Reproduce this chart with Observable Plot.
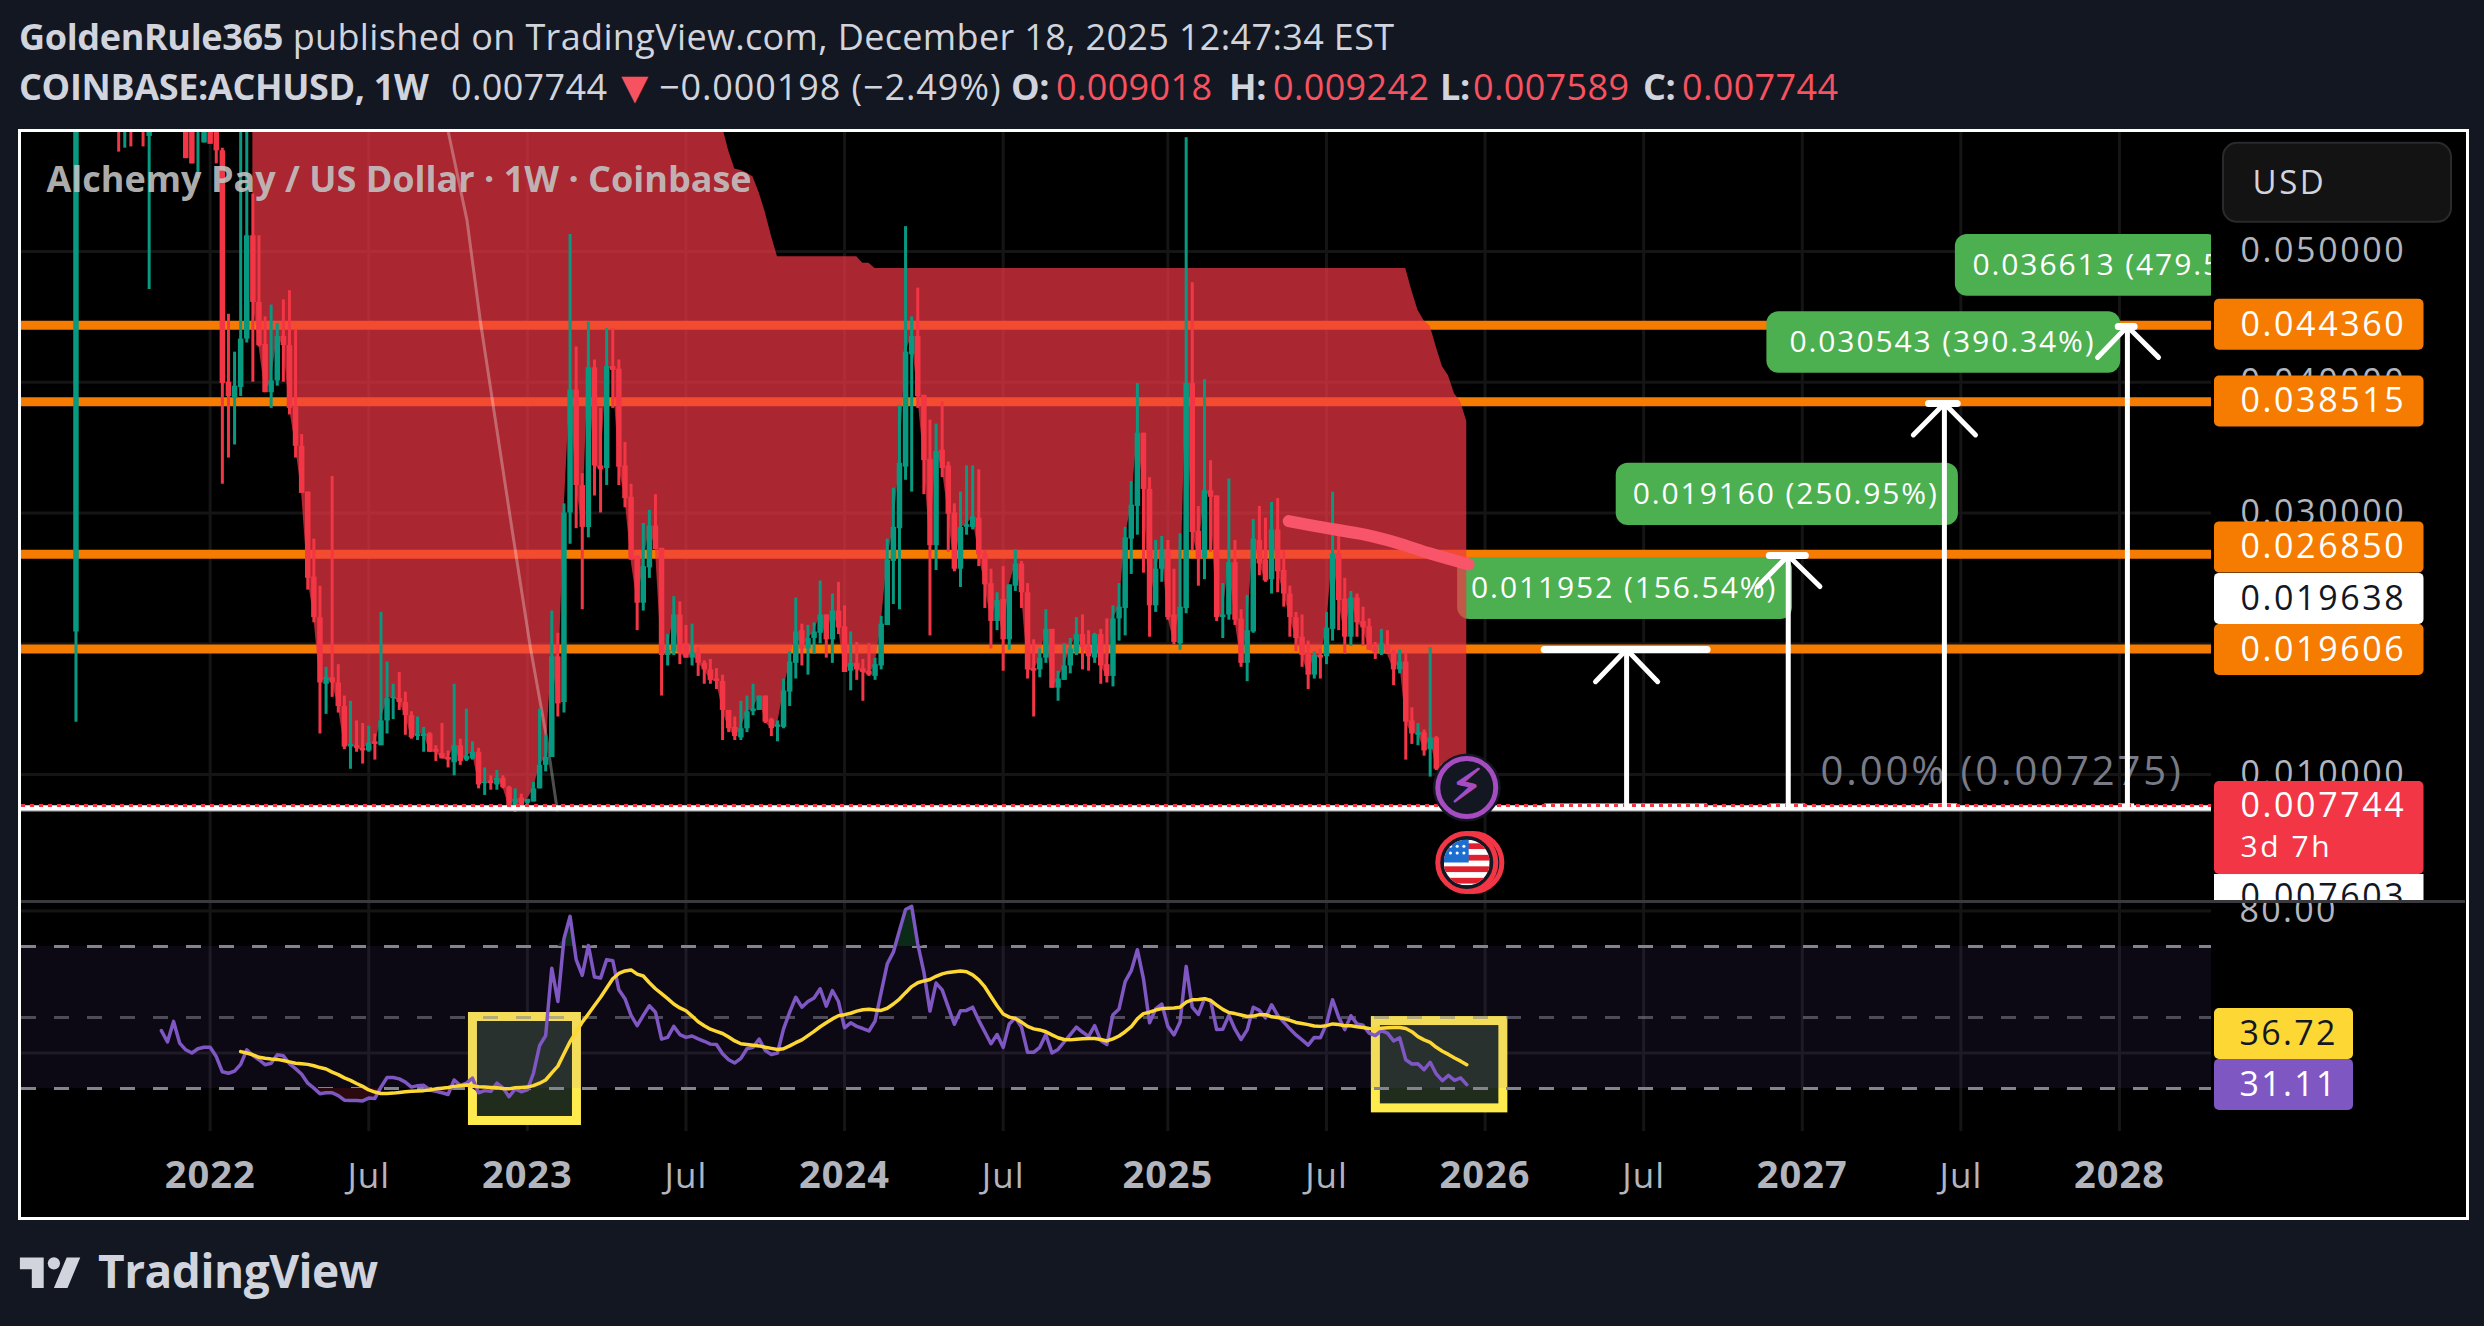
<!DOCTYPE html>
<html><head><meta charset="utf-8">
<script src="https://cdn.jsdelivr.net/npm/d3@7"></script>
<script src="https://cdn.jsdelivr.net/npm/@observablehq/plot@0.6"></script>
<style>
html,body{margin:0;padding:0;background:#131722;}
#page{position:relative;width:2484px;height:1326px;overflow:hidden;background:#131722;font-family:"Open Sans",sans-serif;color:#d1d4dc;}
#page svg{position:absolute;display:block;}
.h{position:absolute;white-space:nowrap;font-size:36px;line-height:44px;letter-spacing:0.35px;}
.b{font-weight:700;letter-spacing:-0.35px}.r{color:#f7525f}
#panel{position:absolute;left:18px;top:129px;width:2445px;height:1085px;border:3px solid #fff;background:#000;}
#sep{position:absolute;left:21px;top:900px;width:2444px;height:3px;background:#3a3a3e;}
</style></head><body><div id="page">
<div class="h" style="left:19px;top:15px"><span class="b">GoldenRule365</span> published on TradingView.com, December 18, 2025 12:47:34 EST</div>
<div class="h b" style="left:19px;top:65px">COINBASE:ACHUSD, 1W</div>
<div class="h" style="left:451px;top:65px">0.007744</div>
<div class="h r" style="left:612px;top:63px;font-size:46px">▼</div>
<div class="h" style="left:659px;top:65px;letter-spacing:0.9px">−0.000198 (−2.49%)</div>
<div class="h b" style="left:1011px;top:65px">O:</div><div class="h r" style="left:1056px;top:65px">0.009018</div>
<div class="h b" style="left:1229px;top:65px">H:</div><div class="h r" style="left:1273px;top:65px">0.009242</div>
<div class="h b" style="left:1440px;top:65px">L:</div><div class="h r" style="left:1473px;top:65px">0.007589</div>
<div class="h b" style="left:1643px;top:65px">C:</div><div class="h r" style="left:1682px;top:65px">0.007744</div>
<div id="panel"></div>
<svg style="left:19px;top:1254px" width="63" height="34" viewBox="0 0 36 20" fill="#d1d4dc"><path d="M14 20H7V9H0V2h14v18zM28 20h-8l7.5-18h8L28 20z"/><circle cx="20" cy="5.5" r="3.6"/></svg>
<div class="h b" style="left:98px;top:1243px;font-size:46px;line-height:54px;letter-spacing:-0.5px">TradingView</div>
<div id="charts"></div>
<div id="sep"></div>
</div>
<script>
// Prices in ten-thousandths of a dollar, one entry per weekly bar from 2021-08-02
const candleOpen=[209,800,760,720,700,760,680,660,620,680,620,640,588,640,620,640,610,630,620,595,592,583,610,600,577,400,388,396,433,512,461,429,392,401,435,428,381,351,316,251,220,169,174,170,152,121,122,120,118,125,122,141,158,158,155,145,129,129,131,119,116,113,109,122,111,112,117,93,95,92,97,90,76,82,78,79,89,107,113,190,155,300,394,321,289,411,336,334,412,410,336,312,267,231,258,290,273,191,194,222,200,189,193,185,180,173,171,149,136,128,135,148,149,160,142,136,136,163,185,210,196,204,208,222,203,225,213,179,185,181,179,175,183,214,263,288,335,421,435,390,341,275,348,336,300,257,289,289,296,269,246,217,234,203,244,261,239,181,180,189,211,166,172,183,193,207,197,189,207,184,175,219,227,280,305,361,318,229,257,272,222,200,227,399,286,265,317,313,220,222,262,219,185,209,279,264,249,287,256,238,220,205,192,176,191,190,211,269,234,205,235,217,213,197,192,199,193,180,186,141,130,132,119,128,104,98,93,88,90.18];
const candleHigh=[900,950,900,860,820,880,760,720,700,700,680,680,700,700,660,680,650,660,640,610,630,630,630,620,579,452,423,600,600,544,512,450,459,445,463,470,440,360,316,280,244,182,328,184,160,156,141,139,137,131,224,186,169,178,163,148,144,136,132,122,139,118,169,127,150,125,120,105,99,103,99,91,89,85,81,94,150,130,225,208,307,513,427,330,446,417,380,441,441,417,354,322,267,292,302,314,273,207,236,232,214,215,197,187,188,181,176,149,144,156,160,169,160,160,143,141,173,194,235,215,214,216,248,222,238,247,229,209,201,188,200,189,221,280,319,382,519,450,472,390,371,368,385,339,307,316,336,336,333,271,257,239,259,245,272,263,246,203,196,226,211,179,200,204,220,222,210,208,211,219,229,246,289,324,399,361,327,279,282,279,257,284,587,476,305,402,340,313,246,326,279,226,237,295,305,296,308,311,271,244,224,222,202,194,196,224,316,291,250,240,238,228,219,201,211,210,195,195,193,151,139,134,197,129,108,102,96,90,92.42];
const candleLow=[140,700,680,640,640,660,620,576,579,580,600,580,471,600,596,600,596,595,571,567,556,583,582,567,322,342,352,389,430,400,427,392,380,397,400,375,342,315,241,216,131,146,159,147,119,104,117,108,117,111,122,131,142,149,130,127,126,117,117,110,112,105,99,107,110,111,89,84,88,88,89,74,71,74,76,79,89,102,113,144,147,276,288,226,281,313,300,321,380,321,304,264,210,225,250,272,160,183,191,184,189,183,175,169,169,165,126,132,126,126,132,145,149,139,129,125,135,152,173,183,176,192,200,189,185,207,178,164,172,156,175,172,180,214,230,226,325,316,380,314,206,256,327,270,255,243,283,287,259,227,196,210,179,195,240,227,173,144,174,185,166,156,172,177,191,180,179,185,169,170,167,202,206,253,283,254,205,224,247,218,199,195,223,271,244,249,270,217,204,218,214,182,171,208,252,247,238,239,228,205,194,182,165,173,173,184,202,210,192,198,205,198,195,188,191,192,168,177,111,123,122,114,98,103,96,90,86,78,75.89];
const candleClose=[800,760,720,700,760,680,640,620,680,620,640,610,640,620,640,610,630,600,571,567,610,610,582,577,399,389,397,433,512,461,428,392,401,435,428,380,351,315,250,220,170,174,170,152,121,123,120,118,124,123,141,158,159,155,145,128,131,131,117,117,112,111,122,110,114,117,92,94,93,97,90,75,81,76,81,89,107,113,190,154,300,394,321,289,411,336,333,412,409,335,311,264,231,259,290,272,191,195,222,193,189,193,185,180,172,171,149,135,129,135,148,150,160,140,135,138,164,186,209,196,204,209,222,203,225,212,178,185,180,178,176,184,215,264,289,338,423,435,389,340,275,347,334,299,257,289,291,297,268,245,217,233,203,245,261,239,180,179,189,211,166,173,183,196,207,197,190,207,183,175,219,228,281,306,361,318,229,257,272,220,201,228,399,285,265,317,312,220,222,262,218,185,210,280,261,248,287,255,238,220,204,191,176,191,189,212,269,233,205,235,216,212,195,193,200,192,180,186,140,131,132,118,128,104,98,93,88,79.42,77.44];
// Upper edge of the shaded channel, one entry per week from bar 29
const bandUpper=[
620,620,620,620,620,620,620,620,620,620,
620,620,620,620,620,620,620,620,620,620,
620,620,620,620,620,620,620,620,620,620,
620,620,620,620,620,620,620,620,620,620,
620,620,620,620,620,620,620,620,620,620,
620,620,620,620,620,620,620,620,620,620,
620,620,620,620,620,620,620,620,620,620,
620,620,620,620,620,620,620,
595,577,563,562,560,557,545,530,512,496,
496,496,496,496,496,496,496,496,496,496,
496,496,496,
491,491,487,
487,487,487,487,487,487,487,487,487,487,
487,487,487,487,487,487,487,487,487,487,
487,487,487,487,487,487,487,487,487,487,
487,487,487,487,487,487,487,487,487,487,
487,487,487,487,487,487,487,487,487,487,
487,487,487,487,487,487,487,487,487,487,
487,487,487,487,487,487,487,487,487,487,
487,487,487,487,487,487,487,487,487,487,
487,487,487,487,487,487,487,
470,455,447,443,427,412,405,391,385,370];
// RSI from bar 14, its signal line from bar 27
const rsiValues=[46.3,43.1,48.9,42.8,40.9,40.0,41.2,41.6,41.6,39.0,34.7,34.3,34.9,36.8,40.9,39.3,38.1,36.7,37.1,39.5,39.2,37.0,35.6,34.0,31.5,30.1,28.5,28.8,28.8,28.0,26.7,26.6,26.6,26.5,27.3,27.2,30.4,33.1,33.1,32.7,31.8,30.4,30.8,30.9,29.6,29.2,28.8,28.3,32.4,30.9,31.5,32.9,28.8,29.4,29.2,31.5,30.2,27.7,29.9,29.1,29.6,34.3,42.1,44.9,63.9,54.5,72.2,78.5,66.3,61.9,70.3,61.4,61.1,66.3,66.0,57.8,55.3,50.6,47.7,50.6,53.3,51.5,43.9,44.4,47.5,45.2,44.4,44.8,44.0,43.3,42.5,42.4,39.8,38.1,37.2,38.5,41.2,41.6,43.9,40.7,39.6,40.0,46.8,51.5,55.7,52.9,54.5,55.5,58.1,53.2,57.6,54.5,47.1,48.5,47.5,46.9,46.2,49.0,57.1,65.1,68.4,74.5,80.4,81.3,70.7,62.8,51.8,59.7,57.8,52.9,48.1,51.9,52.0,52.9,49.2,45.9,42.6,45.2,41.6,48.2,49.9,47.3,40.2,40.2,41.6,45.2,40.0,41.0,43.1,45.2,47.3,45.9,44.7,47.7,43.5,42.4,50.8,52.4,60.1,63.2,69.1,60.9,48.5,52.4,53.8,47.5,45.1,48.7,64.4,52.9,50.9,55.3,54.8,46.6,46.7,50.6,46.7,43.8,46.5,52.9,52.0,49.9,53.6,50.6,48.7,46.8,45.1,43.7,42.2,44.4,44.3,48.2,55.0,50.1,46.6,50.5,48.2,47.8,45.6,44.9,46.3,45.6,43.4,44.3,38.1,36.9,37.0,35.3,37.4,34.1,32.2,33.7,32.3,33.0,31.11];
const rsiSignal=[40.4,40.0,39.5,38.8,38.5,38.3,38.2,37.9,37.5,37.1,37.0,36.8,36.4,35.9,35.5,34.6,33.9,33.0,32.3,31.4,30.6,29.6,29.0,28.6,28.6,28.7,28.9,29.1,29.2,29.3,29.4,29.6,29.9,30.1,30.3,30.6,30.8,31.0,30.8,30.5,30.4,30.3,30.2,30.0,29.9,30.2,30.3,30.4,30.8,31.5,32.4,34.4,36.3,39.8,43.2,45.9,48.7,51.0,53.4,55.7,58.3,60.9,62.4,63.1,63.4,62.2,61.7,59.8,58.1,56.7,55.3,53.8,52.7,51.9,50.4,48.8,47.7,46.7,46.1,45.5,44.5,43.4,42.6,42.4,42.2,42.0,41.6,41.3,41.0,41.2,42.0,42.9,43.7,44.9,46.1,47.4,48.5,49.6,50.5,50.8,51.2,51.8,52.2,52.3,52.1,52.0,52.6,53.8,55.2,57.0,58.7,59.8,60.3,60.7,61.6,62.3,62.7,62.9,63.1,62.9,62.0,60.6,58.6,55.9,53.3,51.0,50.1,49.7,48.7,47.5,46.8,46.5,46.0,45.1,44.3,43.8,43.7,43.9,44.0,44.1,44.1,43.8,43.4,44.0,44.8,46.0,47.4,49.6,51.1,51.5,52.1,52.5,52.6,52.7,52.9,54.3,55.0,55.1,55.3,54.8,53.5,52.3,51.4,51.1,50.7,50.3,50.4,50.8,50.8,50.2,50.0,49.7,49.2,48.6,48.3,48.0,47.6,47.5,47.7,48.2,48.0,47.7,47.7,47.4,47.2,46.9,46.8,47.0,47.1,47.2,47.2,46.9,46.0,44.6,43.7,43.0,41.6,40.5,39.6,38.6,37.7,36.72];
// Levels and ticks
const keyLevels=[0.04436,0.038515,0.02685,0.019606];
const priceTicks=[0.05,0.04,0.03,0.02,0.01];
const rsiDashed=[70,30];
const rsiMiddle=[50];
const rsiGrid=[80,40];
const yearTicks=["2022-01-03","2023-01-02","2024-01-01","2025-01-06","2026-01-05","2027-01-04","2028-01-03"].map(d=>new Date(d));
const yearLabels=["2022","2023","2024","2025","2026","2027","2028"];
const julyTicks=["2022-07-04","2023-07-03","2024-07-01","2025-07-07","2026-07-06","2027-07-05"].map(d=>new Date(d));
// Drawn trend strokes: week index and price (1e-4)
const fadeWeeks=[61.06,64.1,66.3,68.4,71.7,74.5,77.2,78.9];
const fadePrices=[591,524,446.5,382,281,197,127,72.7];
const pinkWeeks=[198.8,205.1,211.1,216.6,222,228.3];
const pinkPrices=[293.8,288.4,283.6,277.1,269,260.7];
// Target boxes
const boxText=["0.011952 (156.54%)","0.019160 (250.95%)","0.030543 (390.34%)","0.036613 (479.51%)"];
const boxFrom=[226.5,252.5,277.2,308.1];
const boxTo=[281.4,308.6,335.2,351.5];
const boxLow=[218.6,290.5,406.8,465.7];
const boxHigh=[266,338,454,513];
const boxTextWeek=[228.7,255.2,280.9,310.9];
const boxTextPrice=[242.3,314.2,430.5,489.4];
// Arrows
const arrowWeek=[254.2,280.7,306.3,336.3];
const arrowTop=[195.6,267.5,383.8,442.7];
const arrowHead=[171,243.8,359.7,419];
const arrowHeadLeft=[249.1,275.7,301.2,331.4];
const arrowHeadRight=[259.3,285.9,311.4,341.4];
const arrowBarLeft=[240.7,277.6,303.7,334.8];
const arrowBarRight=[267.4,283.5,308.4,337.4];
const arrowBase=76;
// Right-hand tags
const tagLabels=["0.044360","0.038515","0.026850","0.019638","0.019606"];
const tagCenters=[444,385.3,273.7,234.3,195.2];
const tagFills=["#f57c00","#f57c00","#f57c00","#ffffff","#f57c00"];
const tagInks=["#fff","#fff","#fff","#131722","#fff"];
const FONT='"Open Sans",sans-serif';

const day=864e5, week0=Date.UTC(2021,7,2);
const week=i=>new Date(week0+i*7*day);
const p=v=>v/1e4;
const xDomain=[new Date(week0-62.5*day),new Date(week0+2450.6*day)];
const priceDomain=[0.000287,0.0591];
const rsiDomain=[17.89,82.11];
const green="#089981", red="#f23645", gridInk="#151515";

const bars=candleOpen.map((o,i)=>({t:week(i),o:p(o),h:p(candleHigh[i]),l:p(candleLow[i]),c:p(candleClose[i]),col:candleClose[i]>=o?green:red}));
const band=bandUpper.map((u,k)=>({t:week(29+k),u:p(u),c:p(candleClose[29+k])}));
const fade=fadeWeeks.map((w,k)=>({t:week(w),y:p(fadePrices[k])}));
const pink=pinkWeeks.map((w,k)=>({t:week(w),y:p(pinkPrices[k])}));
const boxes=boxText.map((s,k)=>({s,x1:week(boxFrom[k]),x2:week(boxTo[k]),y1:p(boxLow[k]),y2:p(boxHigh[k]),tx:week(boxTextWeek[k]),ty:p(boxTextPrice[k])}));
const arrowSegs=arrowWeek.flatMap((w,k)=>[
 {a:w,b:p(arrowBase),c:w,d:p(arrowTop[k])},
 {a:w,b:p(arrowTop[k]),c:arrowHeadLeft[k],d:p(arrowHead[k])},
 {a:w,b:p(arrowTop[k]),c:arrowHeadRight[k],d:p(arrowHead[k])}]);
const arrowTopBars=arrowWeek.map((w,k)=>({a:arrowBarLeft[k],c:arrowBarRight[k],y:p(arrowTop[k])}));
const arrowBaseBars=arrowWeek.map((w,k)=>({a:arrowBarLeft[k],c:arrowBarRight[k],y:p(arrowBase)}));
const flagSrc="data:image/svg+xml,"+encodeURIComponent(`<svg xmlns="http://www.w3.org/2000/svg" viewBox="0 0 48 48"><defs><clipPath id="c"><circle cx="24" cy="24" r="24"/></clipPath></defs><g clip-path="url(#c)"><rect width="48" height="48" fill="#fff"/><rect y="4" width="48" height="6" fill="#e0202e"/><rect y="16" width="48" height="6" fill="#e0202e"/><rect y="28" width="48" height="6" fill="#e0202e"/><rect y="40" width="48" height="6" fill="#e0202e"/><rect width="26" height="24" fill="#1c6fd0"/><g fill="#fff"><circle cx="7" cy="7" r="1.6"/><circle cx="14" cy="7" r="1.6"/><circle cx="21" cy="7" r="1.6"/><circle cx="7" cy="14" r="1.6"/><circle cx="14" cy="14" r="1.6"/><circle cx="21" cy="14" r="1.6"/></g></g></svg>`);

const pricePane=Plot.plot({
 width:2190,height:769,marginLeft:0,marginRight:0,marginTop:0,marginBottom:0,
 style:{background:"#000",fontFamily:FONT,left:"21px",top:"132px"},
 x:{type:"utc",domain:xDomain,axis:null},y:{domain:priceDomain,axis:null},
 marks:[
  Plot.ruleX([...yearTicks,...julyTicks],{stroke:gridInk,strokeWidth:3}),
  Plot.ruleY(priceTicks,{stroke:gridInk,strokeWidth:3}),
  Plot.ruleY(keyLevels,{stroke:"#f57c00",strokeWidth:9}),
  Plot.rect(boxes.slice(0,1),{x1:"x1",x2:"x2",y1:"y1",y2:"y2",fill:"#4caf50",rx:12}),
  Plot.areaY(band,{x:"t",y1:"c",y2:"u",fill:red,fillOpacity:0.7}),
  Plot.line(fade,{x:"t",y:"y",stroke:"#ffffff",strokeOpacity:0.3,strokeWidth:3}),
  Plot.ruleX(bars,{x:"t",y1:"l",y2:"h",stroke:"col",strokeWidth:3}),
  Plot.ruleX(bars,{x:"t",y1:"o",y2:"c",stroke:"col",strokeWidth:5.5}),
  Plot.ruleY([0.00728],{stroke:"#b0b0b0",strokeWidth:3}),
  Plot.ruleY([0.00745],{stroke:"#ffffff",strokeWidth:5}),
  Plot.link(arrowBaseBars,{x1:d=>week(d.a),y1:"y",x2:d=>week(d.c),y2:"y",stroke:"#fff",strokeWidth:5}),
  Plot.ruleY([0.00763],{stroke:red,strokeWidth:3,strokeDasharray:"4,5"}),
  Plot.line(pink,{x:"t",y:"y",stroke:"#f8556a",strokeWidth:12,strokeLinecap:"round",curve:"catmull-rom"}),
  Plot.rect(boxes.slice(1),{x1:"x1",x2:"x2",y1:"y1",y2:"y2",fill:"#4caf50",rx:12}),
  Plot.text(boxes,{x:"tx",y:"ty",text:"s",textAnchor:"start",fill:"#fff",fontSize:30}),
  Plot.text(["0.00% (0.007275)"],{x:week(286),y:p(102),text:d=>d,textAnchor:"start",fill:"#787b86",fontSize:40}),
  Plot.link(arrowSegs,{x1:d=>week(d.a),y1:"b",x2:d=>week(d.c),y2:"d",stroke:"#fff",strokeWidth:5,strokeLinecap:"round"}),
  Plot.link(arrowTopBars,{x1:d=>week(d.a),y1:"y",x2:d=>week(d.c),y2:"y",stroke:"#fff",strokeWidth:7,strokeLinecap:"round"}),
  Plot.text(["Alchemy Pay / US Dollar · 1W · Coinbase"],{x:week(-4.84),y:p(554),text:d=>d,textAnchor:"start",fill:"#c4c4c4",fillOpacity:0.9,fontSize:36,fontWeight:700}),
  Plot.dot([{t:week(228),y:p(90)}],{x:"t",y:"y",r:34,fill:"#131722"}),
  Plot.dot([{t:week(228),y:p(90)}],{x:"t",y:"y",r:29,fill:"#131722",stroke:"#a64bc0",strokeWidth:5}),
  Plot.text(["⚡"],{x:week(228),y:p(90),text:d=>d,fill:"#a64bc0",stroke:"#a64bc0",strokeWidth:1.5,fontSize:46,fontFamily:"DejaVu Sans"}),
  Plot.dot([{t:week(229),y:p(32.7)}],{x:"t",y:"y",r:29,fill:"#131722",stroke:red,strokeWidth:5}),
  Plot.dot([{t:week(228),y:p(32.7)}],{x:"t",y:"y",r:29,fill:"#131722",stroke:red,strokeWidth:5}),
  Plot.image([{t:week(228),y:p(32.7)}],{x:"t",y:"y",src:()=>flagSrc,width:46,height:46})
 ]
});
d3.select(pricePane).selectAll("text").filter(function(){return /%\)|%$|\(\d/.test(this.textContent)}).style("letter-spacing","1.9px");
d3.select(pricePane).selectAll("text").filter(function(){return /^0\.00%/.test(this.textContent)}).style("letter-spacing","2.9px");

const tags=tagLabels.map((s,k)=>({s,c:p(tagCenters[k]),f:tagFills[k],ink:tagInks[k]}));
const priceStrip=Plot.plot({
 width:254,height:769,marginLeft:0,marginRight:0,marginTop:0,marginBottom:0,
 style:{background:"#000",fontFamily:FONT,left:"2211px",top:"132px",letterSpacing:"2.6px"},
 x:{domain:[0,254],axis:null},y:{domain:priceDomain,axis:null},
 marks:[
  Plot.axisY(priceTicks,{anchor:"left",tickSize:0,tickPadding:0,textAnchor:"start",dx:29,tickFormat:d3.format(".6f"),fill:"#b2b5be",fontSize:34,label:null}),
  Plot.rect([{}],{x1:12,x2:240,y1:p(522.3),y2:p(582.7),fill:"#131313",stroke:"#2a2a2e",strokeWidth:2,rx:14}),
  Plot.text(["USD"],{x:41,y:p(552),text:d=>d,textAnchor:"start",fill:"#d1d4dc",fontSize:33}),
  Plot.rect(tags,{x1:3,x2:212.5,y1:d=>d.c-p(19.5),y2:d=>d.c+p(19.5),fill:"f",rx:5}),
  Plot.text(tags,{x:29,y:"c",text:"s",textAnchor:"start",fill:"ink",fontSize:34}),
  Plot.rect([{}],{x1:3,x2:212.5,y1:p(23.5),y2:p(94.6),fill:red,rx:5}),
  Plot.text(["0.007744"],{x:29,y:p(75.5),text:d=>d,textAnchor:"start",fill:"#fff",fontSize:34}),
  Plot.text(["3d 7h"],{x:29,y:p(44.2),text:d=>d,textAnchor:"start",fill:"#fff",fontSize:30}),
  Plot.rect([{}],{x1:3,x2:212.5,y1:p(0),y2:p(23.5),fill:"#fff"}),
  Plot.text(["0.007603"],{x:29,y:p(5.9),text:d=>d,textAnchor:"start",fill:"#131722",fontSize:34})
 ]
});

const rsiRows=rsiValues.map((v,k)=>({t:week(14+k),v}));
const sigRows=rsiSignal.map((v,k)=>({t:week(27+k),v}));
const yellowBoxes=[{x1:week(65.08),x2:week(82.13),y1:20.85,y2:50.14},{x1:week(213.1),x2:week(234),y1:24.4,y2:49}];
const rsiPane=Plot.plot({
 width:2190,height:312,marginLeft:0,marginRight:0,marginTop:0,marginBottom:84,
 style:{background:"#000",fontFamily:FONT,left:"21px",top:"903px",letterSpacing:"1px"},
 x:{type:"utc",domain:xDomain},y:{domain:rsiDomain,axis:null},
 marks:[
  Plot.ruleX([...yearTicks,...julyTicks],{stroke:gridInk,strokeWidth:3}),
  Plot.ruleY(rsiGrid,{stroke:gridInk,strokeWidth:3}),
  Plot.rect(yellowBoxes,{x1:"x1",x2:"x2",y1:"y1",y2:"y2",fill:"#202d1d",stroke:"#ffeb4e",strokeWidth:9}),
  Plot.rect([{}],{y1:30,y2:70,fill:"#7e57c2",fillOpacity:0.1}),
  Plot.ruleY(rsiDashed,{stroke:"#84848f",strokeWidth:3,strokeDasharray:"15,18"}),
  Plot.ruleY(rsiMiddle,{stroke:"#84848f",strokeOpacity:0.55,strokeWidth:3,strokeDasharray:"15,18"}),
  Plot.areaY(rsiRows,{x:"t",y1:70,y2:d=>Math.max(d.v,70),fill:"#0b2a18"}),
  Plot.areaY(rsiRows,{x:"t",y1:30,y2:d=>Math.min(d.v,30),fill:"#2a0a0e"}),
  Plot.line(rsiRows,{x:"t",y:"v",stroke:"#7e57c2",strokeWidth:3.5}),
  Plot.line(sigRows,{x:"t",y:"v",stroke:"#fdd835",strokeWidth:3.5}),
  Plot.axisX({anchor:"bottom",ticks:yearTicks,tickSize:0,tickPadding:30,tickFormat:d=>yearLabels[yearTicks.findIndex(t=>+t===+d)],fill:"#b2b5be",fontSize:38,fontWeight:700,label:null}),
  Plot.axisX({anchor:"bottom",ticks:julyTicks,tickSize:0,tickPadding:32,tickFormat:()=>"Jul",fill:"#b2b5be",fontSize:35,label:null})
 ]
});

const rsiStrip=Plot.plot({
 width:254,height:228,marginLeft:0,marginRight:0,marginTop:0,marginBottom:0,
 style:{background:"#000",fontFamily:FONT,left:"2211px",top:"903px",letterSpacing:"2.3px"},
 x:{domain:[0,254],axis:null},y:{domain:rsiDomain,axis:null},
 marks:[
  Plot.axisY(rsiGrid.slice(0,1),{anchor:"left",tickSize:0,tickPadding:0,textAnchor:"start",dx:28,tickFormat:d3.format(".2f"),fill:"#b2b5be",fontSize:34,label:null}),
  Plot.rect([{}],{x1:3,x2:142,y1:38.2,y2:52.5,fill:"#fdd835",rx:5}),
  Plot.text(["36.72"],{x:28,y:45.35,text:d=>d,textAnchor:"start",fill:"#131722",fontSize:34}),
  Plot.rect([{}],{x1:3,x2:142,y1:23.8,y2:38.2,fill:"#7e57c2",rx:5}),
  Plot.text(["31.11"],{x:28,y:31,text:d=>d,textAnchor:"start",fill:"#fff",fontSize:34})
 ]
});
document.getElementById("charts").append(pricePane,priceStrip,rsiPane,rsiStrip);
</script></body></html>
